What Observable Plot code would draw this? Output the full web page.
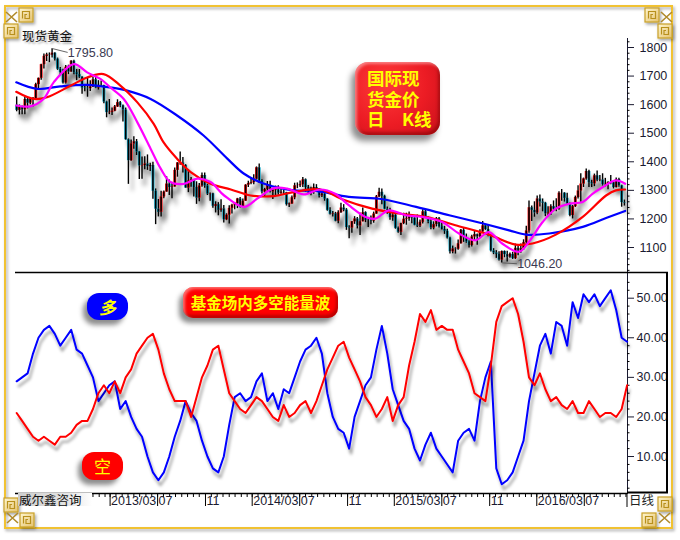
<!DOCTYPE html>
<html><head><meta charset="utf-8">
<script src="https://cdn.jsdelivr.net/npm/d3@7"></script>
<script src="https://cdn.jsdelivr.net/npm/@observablehq/plot@0.6"></script>
<style>
body{margin:0;background:#fff;}
#wrap{position:relative;width:680px;height:540px;overflow:hidden;background:#fff;font-family:"Liberation Sans",Arial,sans-serif;}
.layer{position:absolute;left:0;}
.lbl{position:absolute;color:#ffff00;font-family:"Noto Sans CJK SC",sans-serif;font-weight:700;text-align:center;box-sizing:border-box;white-space:nowrap;}
</style></head>
<body><div id="wrap"></div>
<script>
// ---------- DATA ----------
const priceTitle = "现货黄金";
const chartTitle = ["国际现", "货金价", "日\u3000K线"];
const oscTitle = "基金场内多空能量波";
const longLabel = "多", shortLabel = "空";
const brand = "威尔鑫咨询", period = "日线";

const xStart = "2012-07-01", xEnd = "2016-10-20";
const firstWeek = "2012-07-04";
const wkOpen = [1598,1580,1590,1582,1618,1605,1620,1617,1670,1692,1740,1769,1774,1773,1780,1759,1724,1712,1676,1731,1714,1752,1712,1705,1696,1658,
1657,1656,1662,1687,1658,1667,1667,1609,1572,1573,1577,1592,1607,1596,1581,1477,1404,1462,1470,1434,1386,1387,1392,1383,1387,1297,1234,1223,1277,1294,1322,1310,1312,1370,1396,1396,1387,1308,1333,1337,1310,1273,1315,1352,1315,1287,1288,1244,1250,1230,1235,1197,
1213,1237,1248,1253,1270,1240,1262,1318,1324,1327,1339,1379,1334,1294,1303,1318,1294,1300,1302,1290,1293,1292,1250,1252,1274,1316,1316,1320,1337,1310,1303,1294,1310,1305,1280,1287,1269,1230,1216,1218,1192,1222,1238,1231,1170,1168,1190,1200,1175,1190,1222,1195,
1195,1192,1217,1277,1293,1279,1234,1227,1204,1213,1167,1153,1184,1199,1201,1207,1203,1178,1175,1188,1225,1205,1190,1168,1180,1201,1173,1163,1157,1133,1085,1095,1094,1113,1160,1134,1120,1107,1137,1145,1137,1155,1176,1163,1141,1088,1081,1076,1056,1086,1075,1066,1076,
1061,1097,1088,1096,1117,1158,1239,1230,1221,1270,1259,1255,1218,1221,1243,1234,1234,1290,1290,1272,1252,1212,1243,1275,1298,1322,1340,1366,1327,1323,1351,1335,1336,1320,1321,1327,1327,1310,1338,1316,1257];
const wkHigh = [1627,1599,1595,1627,1625,1622,1625,1675,1693,1741,1777,1780,1781,1796,1782,1763,1730,1724,1737,1738,1754,1755,1723,1723,1698,1668,
1694,1684,1695,1697,1684,1683,1668,1612,1618,1588,1597,1617,1611,1599,1588,1480,1476,1488,1478,1436,1417,1418,1424,1395,1398,1305,1268,1297,1298,1348,1336,1324,1378,1397,1434,1415,1390,1372,1345,1337,1330,1324,1361,1361,1321,1291,1290,1260,1257,1267,1247,1218,
1246,1251,1256,1272,1275,1270,1320,1332,1345,1355,1382,1392,1337,1307,1331,1332,1305,1315,1316,1307,1300,1293,1256,1280,1325,1326,1333,1345,1340,1317,1311,1322,1320,1306,1296,1290,1271,1239,1226,1223,1229,1255,1250,1236,1176,1191,1208,1205,1221,1238,1225,1200,
1210,1224,1282,1307,1305,1283,1242,1237,1220,1224,1172,1185,1220,1220,1224,1210,1205,1214,1196,1232,1232,1207,1199,1190,1205,1205,1188,1174,1164,1136,1105,1099,1126,1163,1170,1147,1124,1143,1157,1147,1162,1191,1180,1180,1144,1096,1089,1085,1088,1088,1087,1081,1083,
1112,1105,1112,1127,1174,1263,1245,1260,1280,1284,1270,1258,1243,1250,1263,1271,1295,1303,1292,1290,1256,1247,1280,1316,1358,1343,1375,1370,1335,1357,1368,1352,1358,1342,1330,1352,1330,1343,1342,1318,1266];
const wkLow = [1575,1564,1565,1565,1585,1600,1592,1615,1651,1685,1725,1751,1747,1763,1753,1720,1701,1672,1672,1705,1713,1705,1684,1692,1636,1645,
1626,1646,1660,1656,1651,1661,1603,1554,1565,1562,1575,1590,1589,1539,1476,1321,1402,1444,1422,1338,1339,1372,1370,1366,1269,1180,1207,1207,1271,1294,1282,1271,1312,1346,1388,1361,1308,1292,1311,1277,1251,1260,1311,1307,1282,1262,1237,1221,1211,1223,1186,1194,
1182,1217,1232,1236,1238,1240,1262,1310,1320,1320,1336,1324,1287,1277,1296,1291,1268,1277,1283,1286,1283,1245,1240,1251,1267,1306,1310,1310,1293,1288,1281,1286,1300,1273,1275,1262,1227,1214,1207,1190,1183,1220,1225,1160,1131,1150,1181,1165,1142,1190,1187,1170,
1180,1185,1216,1275,1250,1232,1216,1195,1192,1164,1150,1142,1180,1178,1192,1183,1176,1170,1170,1182,1201,1183,1162,1162,1172,1168,1161,1146,1130,1077,1078,1077,1090,1112,1118,1115,1098,1102,1124,1108,1132,1150,1160,1138,1084,1075,1062,1053,1046,1064,1049,1062,1058,
1058,1071,1080,1090,1110,1150,1191,1206,1215,1242,1225,1208,1207,1212,1225,1225,1230,1262,1259,1248,1208,1200,1240,1270,1258,1310,1335,1310,1310,1313,1330,1330,1315,1312,1302,1320,1305,1308,1311,1241,1245];
const wkClose = [1580,1590,1582,1618,1605,1620,1617,1670,1692,1740,1769,1774,1773,1780,1759,1724,1712,1676,1731,1714,1752,1712,1705,1696,1658,1657,
1656,1662,1687,1658,1667,1667,1609,1572,1573,1577,1592,1607,1596,1581,1477,1404,1462,1470,1434,1386,1387,1392,1383,1387,1297,1234,1223,1277,1294,1322,1310,1312,1370,1396,1396,1387,1308,1333,1337,1310,1273,1315,1352,1315,1287,1288,1244,1250,1230,1235,1197,1213,
1237,1248,1253,1270,1240,1262,1318,1324,1327,1339,1379,1334,1294,1303,1318,1294,1300,1302,1290,1293,1292,1250,1252,1274,1316,1316,1320,1337,1310,1303,1294,1310,1305,1280,1287,1269,1230,1216,1218,1192,1222,1238,1231,1170,1168,1190,1200,1175,1190,1222,1195,1195,
1192,1217,1277,1293,1279,1234,1227,1204,1213,1167,1153,1184,1199,1201,1207,1203,1178,1175,1188,1225,1205,1190,1168,1180,1201,1173,1163,1157,1133,1085,1095,1094,1113,1160,1134,1120,1107,1137,1145,1137,1155,1176,1163,1141,1088,1081,1076,1056,1086,1075,1066,1076,1061,
1097,1088,1096,1117,1158,1239,1230,1221,1270,1259,1255,1218,1221,1243,1234,1234,1290,1290,1272,1252,1212,1243,1275,1298,1322,1340,1366,1327,1323,1351,1335,1336,1320,1321,1327,1327,1310,1338,1316,1257,1255];

// moving averages
const maLongDates = ["2012-07-03","2012-08-26","2012-10-24","2013-01-01","2013-03-02","2013-04-14","2013-06-13","2013-08-20","2013-10-27","2013-12-27","2014-02-07","2014-03-30","2014-06-15","2014-08-11","2014-11-04","2015-01-30","2015-04-26","2015-07-20","2015-10-15","2015-12-21","2016-02-03","2016-04-02","2016-06-27","2016-08-26","2016-10-14"];
const maLongVals = [1678,1655,1664,1669,1660,1649,1620,1562,1492,1411,1359,1324,1300,1298,1277,1269,1242,1213,1184,1160,1145,1149,1172,1203,1228];
const maMidDates = ["2012-07-03","2012-08-17","2012-09-20","2012-11-19","2013-01-01","2013-02-12","2013-03-28","2013-05-10","2013-06-21","2013-07-16","2013-08-20","2013-09-24","2013-11-14","2014-01-05","2014-02-25","2014-04-25","2014-06-15","2014-08-23","2014-10-18","2015-01-03","2015-03-12","2015-05-20","2015-08-05","2015-10-30","2016-01-07","2016-02-19","2016-04-19","2016-06-27","2016-08-26","2016-09-20","2016-10-14"];
const maMidVals = [1645,1620,1626,1666,1695,1707,1666,1608,1533,1469,1411,1364,1323,1303,1282,1280,1294,1303,1269,1236,1219,1207,1178,1145,1110,1114,1145,1207,1282,1300,1303];
const maShortDates = ["2012-07-03","2012-08-08","2012-09-11","2012-10-07","2012-11-28","2013-01-01","2013-02-04","2013-03-02","2013-04-05","2013-05-10","2013-06-13","2013-07-09","2013-08-03","2013-09-07","2013-10-11","2013-11-14","2013-12-19","2014-02-08","2014-03-14","2014-04-26","2014-05-30","2014-07-11","2014-08-23","2014-09-30","2014-11-04","2014-12-17","2015-01-11","2015-02-15","2015-03-30","2015-05-12","2015-07-02","2015-08-14","2015-09-25","2015-10-30","2015-12-03","2016-01-15","2016-02-10","2016-03-16","2016-04-19","2016-05-23","2016-06-27","2016-07-22","2016-08-17","2016-09-20","2016-10-14"];
const maShortVals = [1597,1594,1620,1678,1742,1713,1690,1660,1620,1538,1446,1376,1329,1323,1341,1329,1282,1242,1271,1308,1306,1286,1303,1288,1248,1207,1201,1230,1213,1207,1189,1149,1125,1154,1114,1085,1120,1189,1236,1253,1259,1288,1311,1335,1323];

// fund long/short energy wave, sampled every two weeks
const oscFirst = "2012-07-04";
const oscLong = [29,30,31,36,40,42,43,41,38,40,42,37,36,33,30,24,26,28,29,22,24,20,17,15,10,6,4,6,10,15,19,24,21,19,14,10,7,6,10,18,25,26,24,25,29,31,24,26,22,27,26,30,34,37,38,40,36,26,20,17,16,12,20,24,28,30,37,43,36,27,23,19,17,12,9,13,16,12,10,8,6,14,16,17,14,24,30,34,7,3,4,6,10,14,24,31,38,41,36,44,43,38,49,45,51,49,51,48,50,52,47,40,39];
const oscShort = [21,19,17,15,14,15,14,13,15,15,16,18,19,19,22,26,28,26,29,26,30,32,36,38,40,41,37,31,27,24,24,24,20,25,30,33,37,38,32,26,24,22,21,23,25,24,22,20,19,23,20,21,23,24,21,24,28,32,35,38,39,35,32,29,25,23,20,22,25,19,23,25,33,39,46,44,47,42,43,42,42,37,34,31,26,25,24,33,44,48,49,50,46,39,30,28,31,27,24,25,23,22,24,21,21,24,22,20,21,21,20,22,28];

const priceTicks = [1100,1200,1300,1400,1500,1600,1700,1800];
const oscTicks = [10,20,30,40,50];
const monthTicks = ["2013-03-01","2013-07-01","2013-11-01","2014-03-01","2014-07-01","2014-11-01","2015-03-01","2015-07-01","2015-11-01","2016-03-01","2016-07-01"];
const monthLabels = ["2013/03","07","11","2014/03","07","11","2015/03","07","11","2016/03","07"];
const peak = {date: "2012-10-05", value: 1795.8, label: "1795.80"};
const trough = {date: "2015-12-03", value: 1046.2, label: "1046.20"};

// ---------- BUILD ----------
const X0 = new Date(xStart), X1 = new Date(xEnd);
const weeks = wkClose.map((c, i) => ({date: d3.utcDay.offset(new Date(firstWeek), 7 * i), open: wkOpen[i], high: wkHigh[i], low: wkLow[i], close: c}));
const toSeries = (ds, vs) => ds.map((d, i) => ({date: new Date(d), v: vs[i]}));
const maLong = toSeries(maLongDates, maLongVals);
const maMid = toSeries(maMidDates, maMidVals);
const maShort = toSeries(maShortDates, maShortVals);
const osc = oscLong.map((v, i) => ({date: d3.utcDay.offset(new Date(oscFirst), 14 * i), bull: v, bear: oscShort[i]}));
const majors = monthTicks.map((d, i) => ({date: new Date(d), label: monthLabels[i]}));
const minors = d3.utcMonth.range(X0, X1).flatMap(m => [m, d3.utcDay.offset(m, 15)]).filter(d => d > X0 && d < X1);
const pk = [{date: new Date(peak.date), value: peak.value, label: peak.label}];
const tr = [{date: new Date(trough.date), value: trough.value, label: trough.label}];

const pYDomain = [1012.5, 1831.5];
const oYDomain = [0.66, 56.49];
const axisStyle = {fontFamily: "'Liberation Sans', Arial, sans-serif", fontSize: "12.5px", color: "#1a1a30", background: "transparent", overflow: "visible"};

const topPlot = Plot.plot({
  width: 680, height: 272,
  marginLeft: 15, marginRight: 53, marginTop: 38, marginBottom: 0,
  style: axisStyle,
  color: {type: "identity"},
  x: {type: "utc", domain: [X0, X1], axis: null},
  y: {domain: pYDomain, axis: "right", ticks: priceTicks, tickSize: 6, tickPadding: 6, line: true, label: null, tickFormat: d => String(d)},
  marks: [
    Plot.ruleY(d3.range(1020, 1831, 20).filter(v => v % 100), {y: d => d, x1: X1, x2: X1, insetRight: -2.5, stroke: "#000"}),
    Plot.ruleX(weeks, {x: "date", y1: "low", y2: "high", stroke: "#000", strokeWidth: 1.4, ariaDescription: "candles"}),
    Plot.ruleX(weeks, {x: "date", y1: "open", y2: "close", stroke: d => d.close >= d.open ? "#ff1010" : "#12a8c8", strokeWidth: 2.9, ariaDescription: "candles"}),
    Plot.ruleX(weeks, {x: "date", y1: "open", y2: "close", stroke: "#000", strokeWidth: 1.6}),
    Plot.line(maLong, {x: "date", y: "v", stroke: "#0000ff", strokeWidth: 2.2, curve: "catmull-rom"}),
    Plot.line(maMid, {x: "date", y: "v", stroke: "#ff0000", strokeWidth: 2.2, curve: "catmull-rom"}),
    Plot.line(maShort, {x: "date", y: "v", stroke: "#ff00ff", strokeWidth: 2.2, curve: "catmull-rom"}),
    Plot.link(pk, {x1: "date", y1: "value", x2: d => d3.utcDay.offset(d.date, 38), y2: d => d.value - 13, stroke: "#555", strokeWidth: 0.9}),
    Plot.link(tr, {x1: "date", y1: "value", x2: d => d3.utcDay.offset(d.date, 38), y2: d => d.value - 3, stroke: "#555", strokeWidth: 0.9}),
    Plot.text(pk, {x: "date", y: "value", text: "label", dx: 15, dy: 4, textAnchor: "start", lineAnchor: "middle", fill: "#3a3a52", fontSize: 12.5}),
    Plot.text(tr, {x: "date", y: "value", text: "label", dx: 15, dy: 1, textAnchor: "start", lineAnchor: "middle", fill: "#3a3a52", fontSize: 12.5})
  ]
});

const botPlot = Plot.plot({
  width: 680, height: 268,
  marginLeft: 15, marginRight: 53, marginTop: 0, marginBottom: 47,
  style: axisStyle,
  x: {type: "utc", domain: [X0, X1], axis: null},
  y: {domain: oYDomain, axis: "right", ticks: oscTicks, tickSize: 6, tickPadding: 3, line: true, label: null, tickFormat: d => d.toFixed(2)},
  marks: [
    Plot.ruleY(d3.range(2, 56, 2).filter(v => v % 10), {y: d => d, x1: X1, x2: X1, insetRight: -2.5, stroke: "#000"}),
    Plot.line(osc, {x: "date", y: "bull", stroke: "#0000ff", strokeWidth: 2, ariaDescription: "osc"}),
    Plot.line(osc, {x: "date", y: "bear", stroke: "#ff0000", strokeWidth: 2, ariaDescription: "osc"}),
    Plot.ruleY([oYDomain[0]], {stroke: "#000", strokeWidth: 1.5}),
    Plot.ruleX(minors, {x: d => d, y1: oYDomain[0], y2: oYDomain[0], insetBottom: -4, stroke: "#000"}),
    Plot.ruleX(majors, {x: "date", y1: oYDomain[0], y2: oYDomain[0], insetBottom: -13, stroke: "#000"}),
    Plot.text(majors, {x: "date", text: "label", frameAnchor: "bottom", dx: 1, dy: 7.5, textAnchor: "start", lineAnchor: "middle", fill: "#1a1a30", fontSize: 12.5})
  ]
});

const wrap = document.getElementById("wrap");
function place(node, top) {
  const d = document.createElement("div");
  d.className = "layer"; d.style.top = top + "px";
  d.appendChild(node); wrap.appendChild(d);
  return node;
}
place(topPlot, 0);
place(botPlot, 272);
function addShadow(svgNode, id, sel, dx, dy, sd, op) {
  const svg = d3.select(svgNode);
  let defs = svg.select("defs");
  if (defs.empty()) defs = svg.insert("defs", ":first-child");
  const f = defs.append("filter").attr("id", id).attr("filterUnits", "userSpaceOnUse")
    .attr("x", 0).attr("y", -20).attr("width", 700).attr("height", 320);
  f.append("feDropShadow").attr("dx", dx).attr("dy", dy).attr("stdDeviation", sd).attr("flood-color", "#000").attr("flood-opacity", op);
  svg.selectAll(sel).attr("filter", `url(#${id})`);
}
addShadow(topPlot, "shC", 'g[aria-description="candles"]', 4, 7, 2.2, 0.42);
addShadow(botPlot, "shO", 'g[aria-description="osc"]', 2, 5, 1.8, 0.38);

// ---------- DECORATION ----------
const deco = d3.create("svg").attr("width", 680).attr("height", 540).style("position", "absolute").style("left", 0).style("top", 0);
const defs = deco.append("defs");
const g1 = defs.append("linearGradient").attr("id", "gold").attr("x1", 0).attr("y1", 0).attr("x2", 1).attr("y2", 1);
g1.append("stop").attr("offset", 0).attr("stop-color", "#fff6cf");
g1.append("stop").attr("offset", 1).attr("stop-color", "#e4c270");
const fl = defs.append("filter").attr("id", "sh").attr("x", "-20%").attr("y", "-20%").attr("width", "160%").attr("height", "160%");
fl.append("feDropShadow").attr("dx", 1.5).attr("dy", 2).attr("stdDeviation", 1.5).attr("flood-opacity", 0.35);
deco.append("rect").attr("x", 5).attr("y", 6).attr("width", 667).attr("height", 522).attr("fill", "none").attr("stroke", "#f1c232").attr("stroke-width", 2).attr("filter", "url(#sh)");
deco.append("line").attr("x1", 15).attr("x2", 668).attr("y1", 272.5).attr("y2", 272.5).attr("stroke", "#000").attr("stroke-width", 1.5);
deco.append("line").attr("x1", 667).attr("x2", 667).attr("y1", 272).attr("y2", 493).attr("stroke", "#000").attr("stroke-width", 2);
deco.append("line").attr("x1", 627).attr("x2", 668).attr("y1", 492.5).attr("y2", 492.5).attr("stroke", "#000").attr("stroke-width", 2);
deco.append("line").attr("x1", 627).attr("x2", 627).attr("y1", 493).attr("y2", 507).attr("stroke", "#000").attr("stroke-width", 1);
function knot(x, y) {
  const g = deco.append("g").attr("transform", `translate(${x},${y})`).attr("filter", "url(#sh)");
  g.append("rect").attr("width", 14).attr("height", 14).attr("fill", "url(#gold)").attr("stroke", "#c9a028").attr("stroke-width", 1.2);
  g.append("path").attr("d", "M3.5 10.5V3.5H10.5V10.5H6V6.5H8").attr("fill", "none").attr("stroke", "#b8901e").attr("stroke-width", 1.2);
}
function cross(x, y) {
  deco.append("path").attr("transform", `translate(${x},${y})`).attr("d", "M0 0L11 10M11 0L0 10").attr("stroke", "#b08a2a").attr("stroke-width", 1.6);
}
knot(19, 8); cross(6, 12); knot(4, 24);
knot(4, 498); cross(7, 513); knot(20, 513);
knot(645, 8); cross(661, 12); knot(658, 24);
knot(658, 497); cross(659, 513); knot(642, 513);
wrap.appendChild(deco.node());

// ---------- LABELS ----------
function label(text, css, html) {
  const d = document.createElement("div");
  d.className = "lbl";
  Object.assign(d.style, css);
  if (html) d.innerHTML = text; else d.textContent = text;
  wrap.appendChild(d);
  return d;
}
const bevel = "inset 2px 2px 3px rgba(255,200,200,0.55), inset -2px -3px 3px rgba(110,0,0,0.45)";
label(chartTitle.map(t => `<div style="height:20.5px;line-height:20.5px">${t}</div>`).join(""), {left: "355px", top: "62px", width: "85px", height: "73px", borderRadius: "13px",
  background: "radial-gradient(circle at 35% 30%, #ff3a3a, #ec1c24 55%, #c8101a)", boxShadow: "-4px 6px 6px rgba(0,0,0,0.45), " + bevel,
  fontSize: "17.5px", paddingTop: "6px", textAlign: "left", paddingLeft: "12px"}, true);
label(oscTitle, {left: "183px", top: "287px", width: "155px", height: "31px", borderRadius: "10px",
  background: "#ff0000", boxShadow: "-4px 5px 5px rgba(0,0,0,0.45), " + bevel, fontSize: "15.5px", lineHeight: "31px"});
label(longLabel, {left: "87px", top: "293px", width: "41px", height: "27px", borderRadius: "12px",
  background: "#0000ff", boxShadow: "-4px 5px 5px rgba(0,0,0,0.45)", fontSize: "17px", lineHeight: "27px", fontStyle: "italic"});
label(shortLabel, {left: "82px", top: "452px", width: "41px", height: "28px", borderRadius: "12px",
  background: "#ff0000", boxShadow: "-4px 5px 5px rgba(0,0,0,0.45)", fontSize: "17px", lineHeight: "28px", fontWeight: "400"});
label(priceTitle, {left: "22px", top: "26px", color: "#111", fontSize: "12.5px", fontWeight: "400", textShadow: "2px 2px 2px rgba(0,0,0,0.35)", textAlign: "left"});
label(brand, {left: "18px", top: "493px", width: "74px", height: "13px", color: "#111", fontSize: "12.5px", lineHeight: "13px", fontWeight: "400", textAlign: "left", paddingLeft: "1px",
  background: "linear-gradient(to right, #cdcdcd, #e6e6e6 70%, #ffffff)"});
label(period, {left: "629px", top: "493px", color: "#222", fontSize: "12.5px", lineHeight: "14px", fontWeight: "400", textAlign: "left"});
</script></body></html>
